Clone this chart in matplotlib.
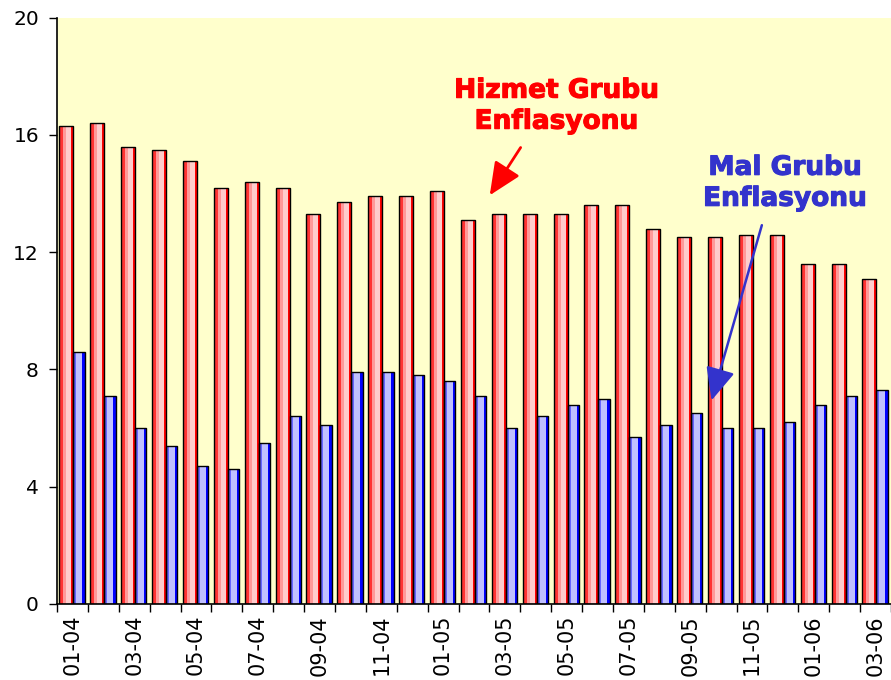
import numpy as np
import matplotlib
matplotlib.use("Agg")
import matplotlib.pyplot as plt
import matplotlib.patheffects as pe
from matplotlib.colors import to_rgb

# aylar (ay-yil)
months = ['01-04', '02-04', '03-04', '04-04', '05-04', '06-04', '07-04', '08-04', '09-04',
          '10-04', '11-04', '12-04', '01-05', '02-05', '03-05', '04-05', '05-05', '06-05',
          '07-05', '08-05', '09-05', '10-05', '11-05', '12-05', '01-06', '02-06', '03-06']

# hizmet grubu enflasyonu (%)
hizmet = [16.3, 16.4, 15.6, 15.5, 15.1, 14.2, 14.4, 14.2, 13.3,
          13.7, 13.9, 13.9, 14.1, 13.1, 13.3, 13.3, 13.3, 13.6,
          13.6, 12.8, 12.5, 12.5, 12.6, 12.6, 11.6, 11.6, 11.1]

# mal grubu enflasyonu (%)
mal = [8.6, 7.1, 6.0, 5.4, 4.7, 4.6, 5.5, 6.4, 6.1,
       7.9, 7.9, 7.8, 7.6, 7.1, 6.0, 6.4, 6.8, 7.0,
       5.7, 6.1, 6.5, 6.0, 6.0, 6.2, 6.8, 7.1, 7.3]

yticks = [0, 4, 8, 12, 16, 20]

# bar renk gecisleri (soldan saga)
red_grad = ['#FF3333', '#FF3333', '#FF3333', '#FF9999', '#FF9999', '#FF9999',
            '#FFCCCC', '#FFCCCC', '#FFCCCC', '#FFCCCC', '#FF0000', '#FF0000']
blue_grad = ['#6666FF', '#6666FF', '#C0C0FF', '#C0C0FF', '#C0C0FF', '#C0C0FF',
             '#C0C0FF', '#0000FF', '#0000FF']


def gradient_bars(ax, bars, colors):
    img = np.array([[to_rgb(c) for c in colors]])
    for b in bars:
        x0, y0 = b.get_x(), b.get_y()
        im = ax.imshow(img, extent=[x0, x0 + b.get_width(), y0, y0 + b.get_height()],
                       aspect='auto', interpolation='nearest', zorder=2)
        im.set_clip_path(b)
        b.set_facecolor('none')
        b.set_zorder(3)


fig = plt.figure(figsize=(8.91, 6.80), dpi=100)
ax = fig.add_axes([0.064, 0.112, 0.937, 0.862])
ax.set_facecolor('#FFFFCC')

x = np.arange(len(months))
r = ax.bar(x - 0.425, hizmet, width=0.454, align='edge', edgecolor='black', linewidth=1)
b = ax.bar(x + 0.029, mal, width=0.367, align='edge', edgecolor='black', linewidth=1)
gradient_bars(ax, r, red_grad)
gradient_bars(ax, b, blue_grad)

ax.set_xlim(-0.5, 26.53)
ax.set_ylim(0, 20)

# eksenler
for s in ['top', 'right']:
    ax.spines[s].set_visible(False)
ax.spines['left'].set_linewidth(1.2)
ax.spines['bottom'].set_linewidth(1.2)

ax.set_yticks(yticks)
ax.tick_params(axis='y', labelsize=14.5, length=6, width=1, pad=7)

ax.set_xticks(np.arange(-0.5, len(months), 1))
ax.set_xticklabels([])
ax.tick_params(axis='x', which='major', length=6, width=1)
ax.set_xticks(x[::2], months[::2], minor=True)
ax.tick_params(axis='x', which='minor', length=0, labelsize=15, rotation=90, pad=8)

# aciklamalar
ax.text(15.67, 16.98, 'Hizmet Grubu\nEnflasyonu', color='#FF0000', fontsize=19,
        fontweight='bold', ha='center', va='center', linespacing=1.25,
        path_effects=[pe.withStroke(linewidth=0.8, foreground='#FF0000')])
ax.annotate('', xy=(13.51, 13.94), xytext=(14.51, 15.57),
            arrowprops=dict(arrowstyle='-|>,head_length=1.0,head_width=0.45',
                            mutation_scale=20, color='#FF0000', lw=2,
                            shrinkA=0, shrinkB=0))

ax.text(23.07, 14.35, 'Mal Grubu\nEnflasyonu', color='#3333CC', fontsize=19,
        fontweight='bold', ha='center', va='center', linespacing=1.25,
        path_effects=[pe.withStroke(linewidth=0.8, foreground='#3333CC')])
ax.annotate('', xy=(20.69, 6.94), xytext=(22.32, 12.92),
            arrowprops=dict(arrowstyle='-|>,head_length=1.0,head_width=0.45',
                            mutation_scale=20, color='#3333CC', lw=1.8,
                            shrinkA=0, shrinkB=0))

plt.savefig('out.png', dpi=100)
